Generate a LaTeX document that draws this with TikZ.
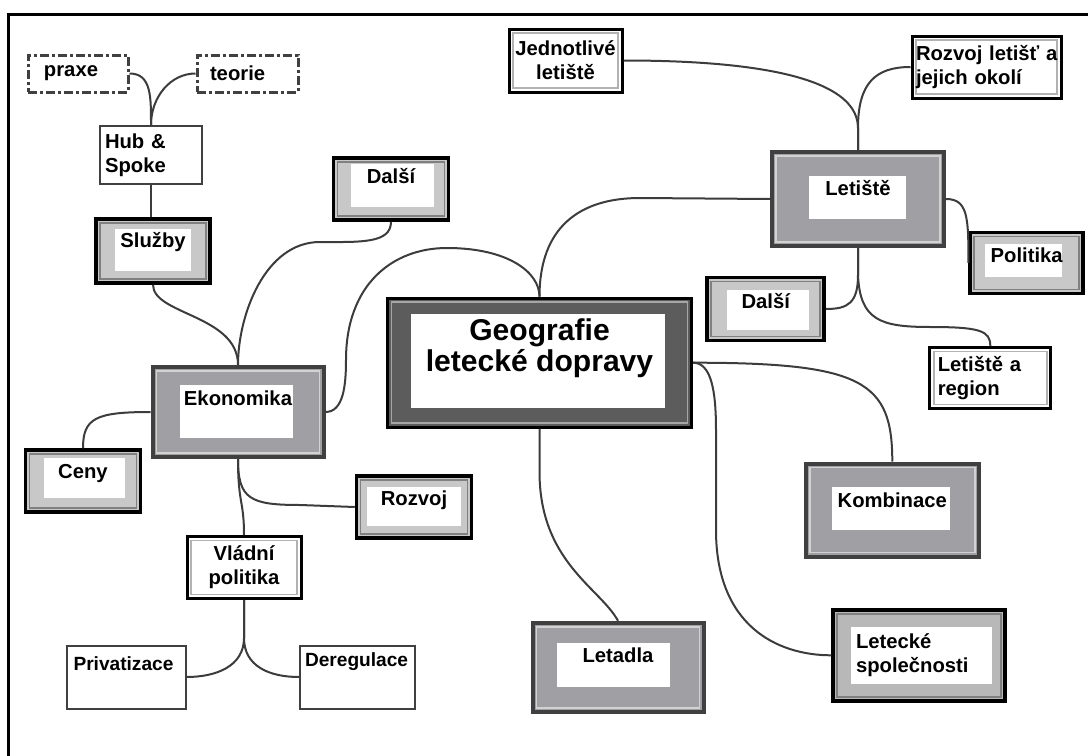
\documentclass[tikz,border=0pt]{standalone}
\usepackage{fontspec}
\setmainfont{Liberation Sans}
\usepackage{tikz}
\usetikzlibrary{positioning}
\definecolor{linka}{RGB}{60,60,60}
\definecolor{svetlaseda}{RGB}{200,200,200}
\definecolor{sedarama}{RGB}{184,184,184}
\definecolor{tmavaseda}{RGB}{160,160,164}
\definecolor{stredseda}{RGB}{92,92,92}
\definecolor{okrajseda}{RGB}{64,64,64}
\newlength{\jed}
\setlength{\jed}{0.025cm}
\newcommand{\popis}{\bfseries\fontsize{14.4}{17}\selectfont}
\newcommand{\mensi}{\bfseries\fontsize{13.6}{17}\selectfont}
\newcommand{\titulek}{\bfseries\fontsize{21.4}{22.5}\selectfont}
\newcommand{\podpera}[1]{\rule[-#1\jed]{0pt}{#1\jed}}
\tikzset{
  ram/.style={rectangle, inner sep=0pt, line width=3\jed, font=\popis, align=center},
  vypln/.style n args={5}{path picture={
      \draw[#5, line width=1.5\jed]
        ([shift={(4,4)}]path picture bounding box.north west) rectangle
        ([shift={(-4,-4)}]path picture bounding box.south east);
      \fill[white]
        ([shift={(#1,#3)}]path picture bounding box.north west) rectangle
        ([shift={(-#2,-#4)}]path picture bounding box.south east);}},
  tmavy/.style n args={4}{ram, draw=okrajseda, line width=4\jed, fill=tmavaseda,
    vypln={#1}{#2}{#3}{#4}{gray!35}},
  svetly/.style n args={4}{ram, draw=black, line width=3.5\jed, fill=svetlaseda,
    vypln={#1}{#2}{#3}{#4}{gray}},
  stredni/.style n args={4}{ram, draw=black, fill=stredseda, font=\titulek,
    vypln={#1}{#2}{#3}{#4}{gray!70}},
  bily/.style={ram, draw=black, fill=white, path picture={
      \draw[gray!60, line width=1.5\jed]
        ([shift={(4,4)}]path picture bounding box.north west) rectangle
        ([shift={(-4,-4)}]path picture bounding box.south east);}},
  tenky/.style={ram, draw=okrajseda, line width=2\jed, fill=white, font=\mensi},
  carka/.style={ram, draw=okrajseda, line width=3\jed, fill=white,
    dash pattern=on 9\jed off 3\jed on 3\jed off 3\jed},
  spoj/.style={draw=linka, line width=2\jed},
}

\begin{document}
\begin{tikzpicture}[x=0.025cm, y=-0.025cm]
  \useasboundingbox (0,0) rectangle (1088,756);
  \draw[line width=3\jed] (8,756) -- (8,14) -- (1088,14);

  % levá strana
  \node[carka, align=left, text width=68\jed, inner xsep=16\jed, minimum height=37\jed] (praxe) at (78,73.5) {praxe};
  \node[carka, align=left, text width=75\jed, inner xsep=13\jed, minimum height=37\jed] (teorie) at (247.5,73.5) {teorie};
  \node[tenky, font=\popis, align=left, text width=92\jed, inner xsep=5\jed, minimum height=58\jed] (hub) at (151,155) {Hub \&\\Spoke};
  \node[svetly={19}{19}{10}{12}, minimum width=114\jed, minimum height=64\jed] (sluzby) at (153,251) {Služby\podpera{22}};
  \node[svetly={17}{15}{6}{13}, minimum width=115\jed, minimum height=62\jed] (dalsi1) at (391,189) {Další\podpera{26}};
  \node[tmavy={27}{31}{18}{19}, minimum width=171\jed, minimum height=90\jed] (ekonomika) at (238,412) {Ekonomika\podpera{28}};
  \node[svetly={18}{16}{8}{14}, minimum width=115\jed, minimum height=62\jed] (ceny) at (83,481) {Ceny\podpera{20}};
  \node[svetly={10}{11}{11}{12}, minimum width=115\jed, minimum height=62\jed] (rozvoj) at (414,507) {Rozvoj\podpera{17}};
  \node[bily, minimum width=114\jed, minimum height=62\jed] (vladni) at (244,567.5) {Vládní\\politika};
  \node[tenky, align=left, text width=105\jed, inner xsep=7\jed, minimum height=63\jed] (privatizace) at (126,677) {Privatizace\podpera{26}};
  \node[tenky, align=left, text width=105\jed, inner xsep=5\jed, minimum height=63\jed] (deregulace) at (357.5,677) {Deregulace\podpera{34}};

  % střed
  \node[stredni={23}{27}{16}{19}, minimum width=304\jed, minimum height=129\jed] (central) at (539.5,362.7) {Geografie\\letecké dopravy\podpera{35}};

  % pravá strana
  \node[bily, minimum width=113\jed, minimum height=63\jed] (jednotlive) at (565.5,60.5) {Jednotlivé\\letiště};
  \node[bily, align=left, text width=141\jed, inner xsep=4\jed, minimum height=62\jed] (rozvojl) at (986.5,67) {\mbox{Rozvoj letišť a}\\jejich okolí};
  \node[tmavy={37}{38}{24}{27}, minimum width=172\jed, minimum height=94\jed] (letiste) at (858,199) {Letiště\podpera{22}};
  \node[svetly={15}{21}{12}{16}, minimum width=113\jed, minimum height=61\jed] (politika) at (1026.7,262.8) {Politika\podpera{15}};
  \node[svetly={20}{15}{12}{11}, minimum width=117\jed, minimum height=63\jed] (dalsi2) at (765.7,309) {Další\podpera{16}};
  \node[bily, align=left, text width=105\jed, inner xsep=8\jed, minimum height=61\jed] (region) at (990.3,377.8) {Letiště a\\region};
  \node[tmavy={26}{29}{23}{27}, minimum width=173\jed, minimum height=93\jed] (kombinace) at (892.3,510) {Kombinace\podpera{20}};
  \node[tmavy={24}{34}{20}{25}, minimum width=171\jed, minimum height=89\jed] (letadla) at (618,667.3) {Letadla\podpera{24}};
  \node[svetly={18}{13}{17}{17}, fill=sedarama, align=left, text width=126\jed, inner xsep=23\jed, minimum height=91\jed] (letecke) at (919,655.3) {Letecké\\společnosti};

  % spoje
  \draw[spoj] (praxe.east) .. controls +(22,0) and +(0,-28) .. (hub.north);
  \draw[spoj] (teorie.west) .. controls +(-25,0) and +(0,-28) .. (hub.north);
  \draw[spoj] (hub.south) -- (hub.south |- sluzby.north);
  \draw[spoj] (sluzby.south) .. controls +(0,30) and +(0,-50) .. (ekonomika.north);
  \draw[spoj] (dalsi1.south) .. controls +(0,22) and +(40,0) .. (320,242)
    .. controls +(-55,0) and +(0,-50) .. (ekonomika.north);
  \draw[spoj] (ekonomika.east) .. controls +(18,0) and +(0,25) .. (346,360)
    .. controls +(0,-75) and +(-55,0) .. (447,248)
    .. controls +(60,0) and +(0,-25) .. (central.north);
  \draw[spoj] (central.north) .. controls +(0,-70) and +(-60,0) .. (640,198) -- (letiste.west);
  \draw[spoj] (ekonomika.west) .. controls +(-55,0) and +(0,-30) .. (ceny.north);
  \draw[spoj] (ekonomika.south) .. controls +(0,45) and +(0,-35) .. (vladni.north);
  \draw[spoj] (ekonomika.south) .. controls +(0,40) and +(-50,0) .. (300,505) -- (rozvoj.west);
  \draw[spoj] (vladni.south) -- ++(0,38) .. controls +(0,28) and +(30,0) .. (privatizace.east);
  \draw[spoj] (vladni.south) -- ++(0,38) .. controls +(0,28) and +(-30,0) .. (deregulace.west);
  \draw[spoj] (central.south) -- ++(0,43) .. controls +(0,90) and +(-18,-33) .. (letadla.north);
  \draw[spoj] (central.east) .. controls +(170,0) and +(0,-80) .. (kombinace.north);
  \draw[spoj] (central.east) .. controls +(18,0) and +(0,-40) .. (716,430) -- (716,530)
    .. controls +(0,95) and +(-55,0) .. (letecke.west);
  \draw[spoj] (letiste.north) -- ++(0,-22) .. controls +(0,-60) and +(90,0) .. (jednotlive.east);
  \draw[spoj] (letiste.north) -- ++(0,-22) .. controls +(0,-45) and +(-35,0) .. (rozvojl.west);
  \draw[spoj] (letiste.east) .. controls +(22,0) and +(0,-45) .. (politika.west);
  \draw[spoj] (letiste.south) -- ++(0,27) .. controls +(0,28) and +(22,0) .. (dalsi2.east);
  \draw[spoj] (letiste.south) -- ++(0,27) .. controls +(2,45) and +(-50,0) .. (930,327)
    .. controls +(50,0) and +(0,-15) .. (region.north);
\end{tikzpicture}
\end{document}
